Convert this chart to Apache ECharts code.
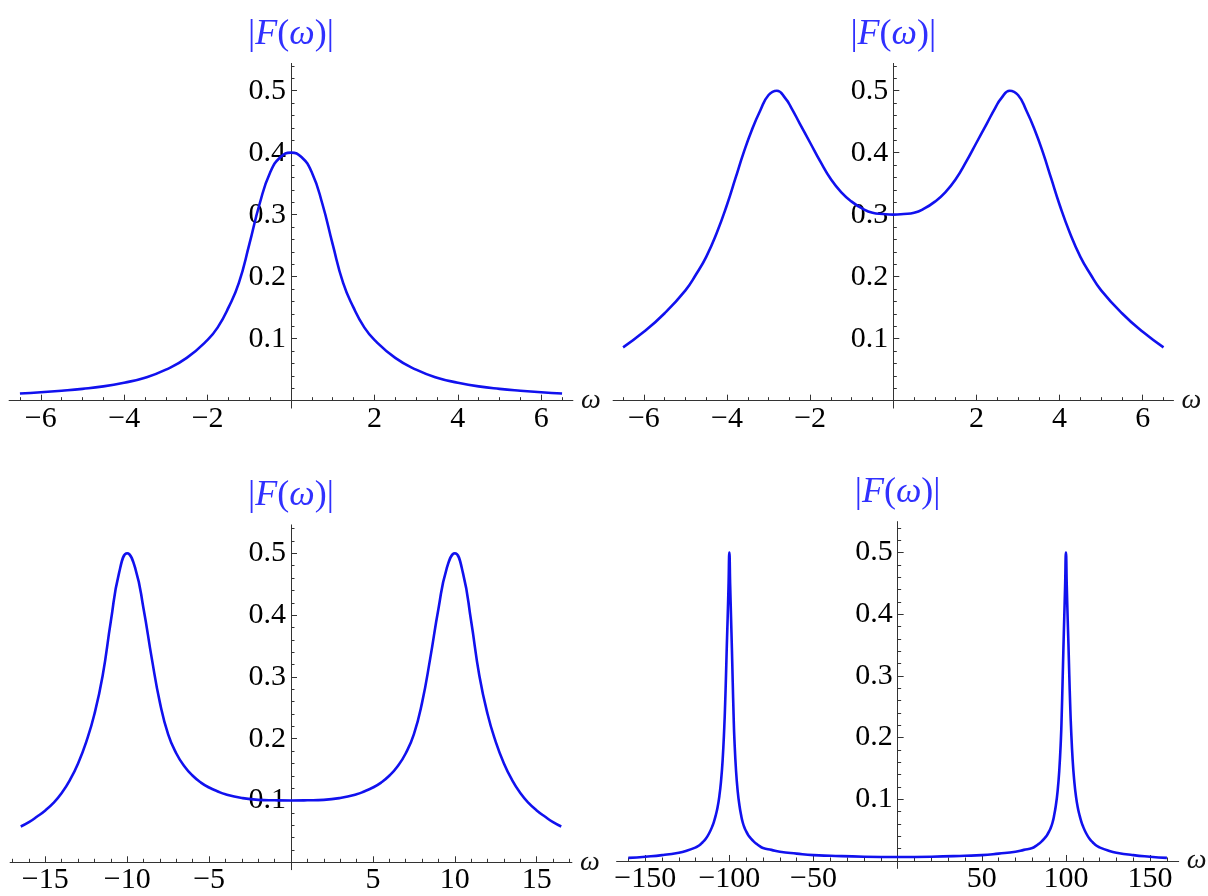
<!DOCTYPE html>
<html>
<head>
<meta charset="utf-8">
<style>
  html, body { margin: 0; padding: 0; background: #fff; }
  #main { width: 1208px; height: 896px; }
</style>
<script src="https://cdn.jsdelivr.net/npm/echarts@6/dist/echarts.min.js"></script>
</head>
<body>
<div id="main"></div>
<script>
// top left: one peak at 0
const omegaA = [-6.5,-6,-5.5,-5,-4.5,-4,-3.5,-3,-2.5,-2,-1.75,-1.5,-1.25,-1,-0.75,-0.5,-0.25,0,
  0.25,0.5,0.75,1,1.25,1.5,1.75,2,2.5,3,3.5,4,4.5,5,5.5,6,6.5];
const magA = [0.0115,0.0135,0.016,0.019,0.023,0.029,0.037,0.050,0.069,0.098,0.119,0.150,0.190,0.252,0.318,0.368,0.393,0.400,
  0.393,0.368,0.318,0.252,0.190,0.150,0.119,0.098,0.069,0.050,0.037,0.029,0.023,0.019,0.016,0.0135,0.0115];

// top right: peaks near +-2.8
const omegaB = [-6.5,-6,-5.5,-5,-4.75,-4.5,-4.25,-4,-3.8,-3.6,-3.4,-3.2,-3,-2.8,-2.6,-2.45,-2.25,-2,-1.75,-1.5,-1.25,-1,-0.75,-0.5,-0.25,0,
  0.25,0.5,0.75,1,1.25,1.5,1.75,2,2.25,2.45,2.6,2.8,3,3.2,3.4,3.6,3.8,4,4.25,4.5,4.75,5,5.5,6,6.5];
const magB = [0.086,0.111,0.141,0.178,0.203,0.232,0.270,0.316,0.358,0.400,0.437,0.468,0.493,0.500,0.488,0.472,0.447,0.416,0.385,0.357,0.336,0.321,0.310,0.303,0.301,0.300,
  0.301,0.303,0.310,0.321,0.336,0.357,0.385,0.416,0.447,0.472,0.488,0.500,0.493,0.468,0.437,0.400,0.358,0.316,0.270,0.232,0.203,0.178,0.141,0.111,0.086];

// bottom left: peaks at +-10
const omegaC = [-16.5,-16,-15.5,-15,-14.5,-14,-13.5,-13,-12.5,-12,-11.5,-11,-10.5,-10,-9.5,-9,-8.5,-8,-7.5,-7,-6.5,-6,-5.5,-5,-4.5,-4,-3,-2,-1,0,
  1,2,3,4,4.5,5,5.5,6,6.5,7,7.5,8,8.5,9,9.5,10,10.5,11,11.5,12,12.5,13,13.5,14,14.5,15,15.5,16,16.5];
const magC = [0.058,0.065,0.074,0.084,0.096,0.112,0.133,0.160,0.195,0.240,0.302,0.390,0.468,0.500,0.475,0.410,0.330,0.258,0.207,0.176,0.155,0.140,0.129,0.121,0.115,0.110,0.104,0.101,0.1003,0.100,
  0.1003,0.101,0.104,0.110,0.115,0.121,0.129,0.140,0.155,0.176,0.207,0.258,0.330,0.410,0.475,0.500,0.468,0.390,0.302,0.240,0.195,0.160,0.133,0.112,0.096,0.084,0.074,0.065,0.058];

// bottom right: narrow peaks at +-100
const omegaD = [-160,-150,-140,-130,-125,-120,-118,-116,-114,-112,-110,-109,-108,-107,-106,-105,-104,-103,-102.5,-102,-101.5,-101,-100.5,-100,
  -99.5,-99,-98.5,-98,-97.5,-97,-96,-95,-94,-93,-92,-91,-90,-89,-88,-86,-84,-82,-80,-75,-70,-60,-50,-40,-20,0,
  20,40,50,60,70,75,80,82,84,86,88,89,90,91,92,93,94,95,96,97,97.5,98,98.5,99,99.5,100,
  100.5,101,101.5,102,102.5,103,104,105,106,107,108,109,110,112,114,116,118,120,125,130,140,150,160];
const magD = [0.005,0.007,0.0095,0.0135,0.017,0.022,0.025,0.030,0.036,0.045,0.057,0.065,0.075,0.087,0.104,0.128,0.163,0.218,0.255,0.300,0.350,0.395,0.445,0.500,
  0.445,0.395,0.345,0.290,0.238,0.197,0.145,0.112,0.090,0.074,0.062,0.054,0.048,0.043,0.039,0.033,0.028,0.024,0.021,0.018,0.015,0.012,0.0095,0.0085,0.007,0.0065,
  0.007,0.0085,0.0095,0.012,0.015,0.018,0.021,0.024,0.028,0.033,0.039,0.043,0.048,0.054,0.062,0.074,0.090,0.112,0.145,0.197,0.238,0.290,0.345,0.395,0.445,0.500,
  0.445,0.395,0.350,0.300,0.255,0.218,0.163,0.128,0.104,0.087,0.075,0.065,0.057,0.045,0.036,0.030,0.025,0.022,0.017,0.0135,0.0095,0.007,0.005];

// ticks
const yMajor = [0.1,0.2,0.3,0.4,0.5];
const yMinor = [0.02,0.04,0.06,0.08,0.12,0.14,0.16,0.18,0.22,0.24,0.26,0.28,0.32,0.34,0.36,0.38,0.42,0.44,0.46,0.48,0.52,0.54];
const xMajorAB = [-6,-4,-2,2,4,6];
const xMinorAB = [-6.5,-5.5,-5,-4.5,-3.5,-3,-2.5,-1.5,-1,-0.5,0.5,1,1.5,2.5,3,3.5,4.5,5,5.5,6.5];
const xMajorC = [-15,-10,-5,5,10,15];
const xMinorC = [-17,-16,-14,-13,-12,-11,-9,-8,-7,-6,-4,-3,-2,-1,1,2,3,4,6,7,8,9,11,12,13,14,16,17];
const xMajorD = [-150,-100,-50,50,100,150];
const xMinorD = [-160,-140,-130,-120,-110,-90,-80,-70,-60,-40,-30,-20,-10,10,20,30,40,60,70,80,90,110,120,130,140,160];

const SERIF = "'Liberation Serif', 'Times New Roman', serif";
const CURVE = '#1111ee';
const TITLE = '#3030ff';
const AXIS = '#333';
const YMIN = -0.012;

const panels = [
  { w: omegaA, f: magA, box: { left: 9.1, top: 63.4, width: 563.8, height: 344.7 }, xr: [-6.76, 6.76], ymax: 0.544, major: xMajorAB, minor: xMinorAB },
  { w: omegaB, f: magB, box: { left: 613.1, top: 63.4, width: 560.4, height: 344.7 }, xr: [-6.74, 6.74], ymax: 0.544, major: xMajorAB, minor: xMinorAB },
  { w: omegaC, f: magC, box: { left: 10.1, top: 524.9, width: 561.8, height: 344.8 }, xr: [-17.15, 17.15], ymax: 0.546, major: xMajorC, minor: xMinorC },
  { w: omegaD, f: magD, box: { left: 616.6, top: 521.6, width: 562.1, height: 346.8 }, xr: [-167, 167], ymax: 0.55, major: xMajorD, minor: xMinorD }
];

function fmt(v) {
  return v < 0 ? '\u2212' + (-v) : String(v);
}

const grid = [], xAxis = [], yAxis = [], series = [];
panels.forEach(function (p, i) {
  const b = p.box;
  grid.push({ left: b.left, top: b.top, width: b.width, height: b.height, containLabel: false, outerBoundsMode: 'none' });

  // axes cross at the origin: shift them inward with negative offsets
  const xShift = -b.width * (0 - p.xr[0]) / (p.xr[1] - p.xr[0]);
  const yShift = -b.height * (0 - YMIN) / (p.ymax - YMIN);

  xAxis.push({
    gridIndex: i, type: 'value', position: 'bottom', offset: yShift, min: p.xr[0], max: p.xr[1],
    axisLine: { onZero: false, lineStyle: { color: AXIS, width: 1 } },
    axisTick: { inside: true, length: 6, customValues: p.major, lineStyle: { color: AXIS } },
    axisLabel: { customValues: p.major, formatter: fmt, color: '#000', fontFamily: SERIF, fontSize: 30, margin: 3 },
    splitLine: { show: false },
    name: '\u03c9', nameLocation: 'end', nameGap: 8, nameMoveOverlap: false,
    nameTextStyle: { fontFamily: SERIF, fontStyle: 'italic', fontSize: 28, color: '#111' }
  });
  // minor x ticks
  xAxis.push({
    gridIndex: i, type: 'value', position: 'bottom', offset: yShift, min: p.xr[0], max: p.xr[1],
    axisLine: { show: false, onZero: false },
    axisTick: { inside: true, length: 3.5, customValues: p.minor, lineStyle: { color: AXIS } },
    axisLabel: { show: false },
    splitLine: { show: false }
  });

  yAxis.push({
    gridIndex: i, type: 'value', position: 'left', offset: xShift, min: YMIN, max: p.ymax,
    axisLine: { onZero: false, lineStyle: { color: AXIS, width: 1 } },
    axisTick: { inside: true, length: 6, customValues: yMajor, lineStyle: { color: AXIS } },
    axisLabel: { customValues: yMajor, formatter: fmt, color: '#000', fontFamily: SERIF, fontSize: 30, margin: 5 },
    splitLine: { show: false },
    name: '{a||}{b|F}{a|(}{b|\u03c9}{a|)|}', nameLocation: 'end', nameGap: 11, nameMoveOverlap: false,
    nameTextStyle: {
      rich: {
        a: { fontFamily: SERIF, fontSize: 36, color: TITLE },
        b: { fontFamily: SERIF, fontSize: 36, fontStyle: 'italic', color: TITLE }
      }
    }
  });
  yAxis.push({
    gridIndex: i, type: 'value', position: 'left', offset: xShift, min: YMIN, max: p.ymax,
    axisLine: { show: false, onZero: false },
    axisTick: { inside: true, length: 3.5, customValues: yMinor, lineStyle: { color: AXIS } },
    axisLabel: { show: false },
    splitLine: { show: false }
  });

  series.push({
    type: 'line',
    xAxisIndex: 2 * i, yAxisIndex: 2 * i,
    data: p.w.map(function (w, k) { return [w, p.f[k]]; }),
    showSymbol: false, symbol: 'none',
    smooth: 0.5,
    lineStyle: { color: CURVE, width: 2.6 },
    z: 5
  });
});

const chart = echarts.init(document.getElementById('main'));
chart.setOption({
  animation: false,
  backgroundColor: '#fff',
  grid: grid,
  xAxis: xAxis,
  yAxis: yAxis,
  series: series
});
</script>
</body>
</html>
